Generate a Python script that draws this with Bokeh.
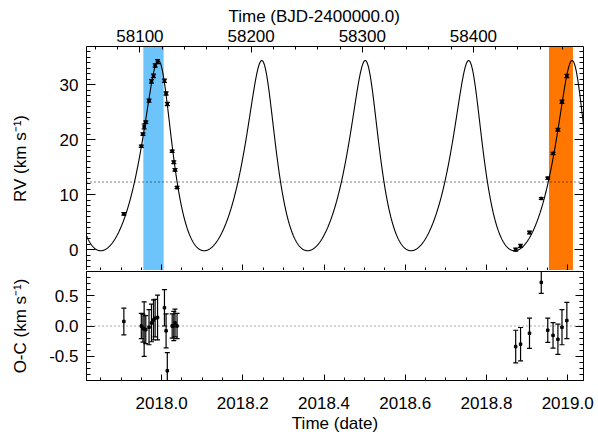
import numpy as np
from bokeh.plotting import figure
from bokeh.layouts import column
from bokeh.models import (Range1d, LinearAxis, SingleIntervalTicker, PrintfTickFormatter,
                          BoxAnnotation, Span, Whisker, TeeHead, ColumnDataSource,
                          CustomLabelingPolicy)
from bokeh.embed import file_html
from bokeh.resources import INLINE

# ---------------- data ----------------
# epochs of the RV measurements (decimal year)
t_obs = [2017.907, 2017.950, 2017.954, 2017.957, 2017.961, 2017.969, 2017.975, 2017.980,
         2017.984, 2017.990, 2018.007, 2018.011, 2018.014, 2018.026, 2018.030, 2018.033,
         2018.038,
         2018.872, 2018.884, 2018.906, 2018.935, 2018.951, 2018.964, 2018.976, 2018.986,
         2018.998]
# measured radial velocities (km/s)
rv_obs = [6.5, 18.8, 21.0, 22.4, 23.2, 27.1, 30.6, 31.6, 33.5, 34.2, 30.7, 28.4, 26.5,
          17.9, 15.9, 14.5, 11.3,
          0.0, 0.7, 3.1, 9.3, 13.0, 17.5, 21.8, 26.9, 31.6]
# residuals O-C (km/s)
oc_obs = [0.075, 0.0, -0.035, -0.05, -0.06, -0.02, 0.05, 0.10, 0.13, 0.14, 0.30, -0.08,
          -0.74, 0.0, 0.0, 0.05, 0.0,
          -0.34, -0.30, -0.12, 0.72, -0.07, -0.155, -0.22, -0.02, 0.09]
# 1-sigma uncertainties (km/s)
err_obs = [0.22, 0.21, 0.23, 0.45, 0.23, 0.29, 0.31, 0.33, 0.31, 0.37, 0.30, 0.28, 0.30,
           0.20, 0.24, 0.23, 0.21,
           0.27, 0.275, 0.25, 0.18, 0.20, 0.21, 0.25, 0.29, 0.30]

# orbital elements of the drawn model curve
period_days = 93.05
ecc = 0.29
omega_deg = 17.2
K_amp = 17.3          # km/s
gamma = 12.3          # km/s, systemic velocity (dotted line)
t_rv_max = 2017.9919  # epoch of an RV maximum

# shaded observing windows (decimal year)
blue_band = [2017.955, 2018.005]
orange_band = [2018.954, 2019.013]

# axis limits
x_lim = [2017.815, 2019.039]
rv_lim = [-3.8, 36.95]
oc_lim = [-0.9, 0.9]
bjd_at_2018 = 58119.5      # BJD-2400000 at 2018.0
days_per_year = 365.25

FONT = "Liberation Sans"
FS = "17px"

# ---------------- Keplerian model ----------------
P = period_days / days_per_year
om = np.radians(omega_deg)


def mean_from_true(nu):
    E = 2 * np.arctan(np.sqrt((1 - ecc) / (1 + ecc)) * np.tan(nu / 2))
    return E - ecc * np.sin(E)


t_peri = t_rv_max - mean_from_true(-om) / (2 * np.pi) * P
t_model = np.linspace(x_lim[0], x_lim[1], 4000)
M = 2 * np.pi * (t_model - t_peri) / P
E = M.copy()
for _ in range(60):
    E = E - (E - ecc * np.sin(E) - M) / (1 - ecc * np.cos(E))
nu = 2 * np.arctan2(np.sqrt(1 + ecc) * np.sin(E / 2), np.sqrt(1 - ecc) * np.cos(E / 2))
rv_model = gamma + K_amp * (np.cos(nu + om) + ecc * np.cos(om))

t_arr = np.array(t_obs)
rv_arr = np.array(rv_obs)
oc_arr = np.array(oc_obs)
er_arr = np.array(err_obs)
src = ColumnDataSource(dict(t=t_arr, rv=rv_arr, rv_lo=rv_arr - er_arr, rv_hi=rv_arr + er_arr,
                            oc=oc_arr, oc_lo=oc_arr - er_arr, oc_hi=oc_arr + er_arr))

HIDE_JS = """
const all = Array.from(indices)
for (const i of all) indices.unset(i)
return indices
"""


def style_axis(ax, major_in, minor_in, labels=True):
    ax.major_tick_out = 0
    ax.minor_tick_out = 0
    ax.major_tick_in = major_in
    ax.minor_tick_in = minor_in
    ax.axis_line_color = "black"
    ax.major_tick_line_color = "black"
    ax.minor_tick_line_color = "black"
    ax.major_label_text_font = FONT
    ax.major_label_text_color = "black"
    ax.axis_label_text_font = FONT
    ax.axis_label_text_font_size = FS
    ax.axis_label_text_font_style = "normal"
    ax.axis_label_text_color = "black"
    if labels:
        ax.major_label_text_font_size = FS
    else:
        # tick marks only: no label is drawn and no space is reserved
        ax.major_label_text_font_size = "0px"
        ax.major_label_standoff = 0
        ax.major_label_policy = CustomLabelingPolicy(code=HIDE_JS)


def date_ticker():
    return SingleIntervalTicker(interval=0.2, num_minor_ticks=4)


x_range = Range1d(*x_lim)

# ---------------- top panel: RV ----------------
top = figure(width=596, height=270, x_range=x_range, y_range=Range1d(*rv_lim),
             output_backend="svg", toolbar_location=None,
             x_axis_location=None, y_axis_location=None,
             min_border_left=86, min_border_right=13, min_border_top=46, min_border_bottom=0,
             title="Time (BJD-2400000.0)")
top.grid.visible = False
top.outline_line_color = None
top.title.align = "left"
top.title.offset = 142
top.title.standoff = 1
top.title.text_font = FONT
top.title.text_font_size = FS
top.title.text_font_style = "normal"
top.title.text_color = "black"
top.extra_x_ranges = {"bjd": Range1d(bjd_at_2018 + (x_lim[0] - 2018.0) * days_per_year,
                                     bjd_at_2018 + (x_lim[1] - 2018.0) * days_per_year)}

ax = LinearAxis(ticker=date_ticker())
style_axis(ax, 6, 3, labels=False)
top.add_layout(ax, "below")
ax = LinearAxis(x_range_name="bjd", ticker=SingleIntervalTicker(interval=100, num_minor_ticks=5),
                formatter=PrintfTickFormatter(format="%d"))
style_axis(ax, 6, 3)
ax.major_label_standoff = 5
top.add_layout(ax, "above")
ax = LinearAxis(ticker=SingleIntervalTicker(interval=10, num_minor_ticks=10),
                axis_label="RV (km s\u207b\u00b9)")
style_axis(ax, 9, 4)
ax.major_label_standoff = 8
ax.axis_label_standoff = 27
top.add_layout(ax, "left")
ax = LinearAxis(ticker=SingleIntervalTicker(interval=10, num_minor_ticks=10))
style_axis(ax, 9, 4, labels=False)
top.add_layout(ax, "right")

for band, col in ((blue_band, "#6cc4fb"), (orange_band, "#ff7600")):
    top.add_layout(BoxAnnotation(left=band[0], right=band[1], fill_color=col, fill_alpha=1.0,
                                 line_color=None, level="underlay"))

top.add_layout(Span(location=gamma, dimension="width", line_color="black",
                    line_dash="1 3", line_width=1))
top.line(t_model, rv_model, line_color="black", line_width=1.1)
w = Whisker(source=src, base="t", upper="rv_hi", lower="rv_lo", dimension="height",
            line_color="black", line_width=1.2,
            upper_head=TeeHead(size=5, line_color="black", line_width=1.2),
            lower_head=TeeHead(size=5, line_color="black", line_width=1.2))
w.level = "annotation"
top.add_layout(w)
top.scatter("t", "rv", source=src, marker="square", size=2.5, color="black")

# ---------------- bottom panel: O-C ----------------
bot = figure(width=596, height=165, x_range=x_range, y_range=Range1d(*oc_lim),
             output_backend="svg", toolbar_location=None,
             x_axis_location=None, y_axis_location=None,
             min_border_left=86, min_border_right=13, min_border_top=1, min_border_bottom=52)
bot.grid.visible = False
bot.outline_line_color = "black"

ax = LinearAxis(ticker=date_ticker(), formatter=PrintfTickFormatter(format="%.1f"),
                axis_label="Time (date)")
style_axis(ax, 6, 3)
ax.major_label_standoff = 16
ax.axis_label_standoff = 2
bot.add_layout(ax, "below")
ax = LinearAxis(ticker=SingleIntervalTicker(interval=0.5, num_minor_ticks=5),
                formatter=PrintfTickFormatter(format="%.1f"),
                axis_label="O-C (km s\u207b\u00b9)")
style_axis(ax, 8, 4)
ax.major_label_standoff = 8
ax.axis_label_standoff = 16
bot.add_layout(ax, "left")
ax = LinearAxis(ticker=SingleIntervalTicker(interval=0.5, num_minor_ticks=5))
style_axis(ax, 8, 4, labels=False)
bot.add_layout(ax, "right")

bot.add_layout(Span(location=0, dimension="width", line_color="#555555",
                    line_dash="1 3", line_width=1))
w2 = Whisker(source=src, base="t", upper="oc_hi", lower="oc_lo", dimension="height",
             line_color="black", line_width=1.2,
             upper_head=TeeHead(size=5, line_color="black", line_width=1.2),
             lower_head=TeeHead(size=5, line_color="black", line_width=1.2))
w2.level = "annotation"
bot.add_layout(w2)
bot.scatter("t", "oc", source=src, marker="square", size=2.5, color="black")

layout = column(top, bot)
open("out.html", "w").write(file_html(layout, INLINE))
